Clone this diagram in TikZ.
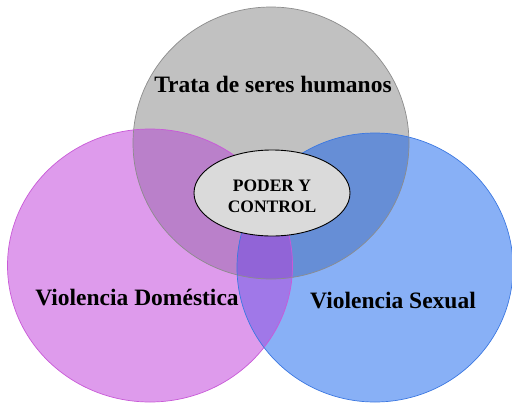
\documentclass[tikz,border=0pt]{standalone}
\usepackage{fontspec}
\setmainfont{Liberation Serif}
\definecolor{cgray}{RGB}{193,193,193}
\definecolor{cpink}{RGB}{222,155,236}
\definecolor{cblue}{RGB}{136,176,246}
\definecolor{cgp}{RGB}{186,128,202}
\definecolor{cgb}{RGB}{102,142,214}
\definecolor{cpb}{RGB}{160,120,232}
\definecolor{cgpb}{RGB}{145,100,215}
\definecolor{lgray}{RGB}{140,140,140}
\definecolor{lpink}{RGB}{200,90,215}
\definecolor{lblue}{RGB}{60,120,225}
\definecolor{cell}{RGB}{218,218,218}
\tikzset{
  lbl/.style={font=\bfseries\fontsize{23.5}{26}\selectfont, text=black, inner sep=0pt},
  clbl/.style={font=\bfseries\fontsize{17.5}{21}\selectfont, text=black, align=center, inner sep=0pt},
  core/.style={ellipse, draw=black, line width=0.9pt, fill=cell, minimum width=156pt, minimum height=86pt, inner sep=0pt}
}
\usetikzlibrary{shapes.geometric}
\begin{document}
\begin{tikzpicture}[x=1pt,y=-1pt]
\useasboundingbox (0,0) rectangle (512,405);
\def\G{(271,143) ellipse [x radius=138, y radius=136]}
\def\P{(150,265.5) ellipse [x radius=142.5, y radius=136.5]}
\def\B{(375,267.5) ellipse [x radius=138, y radius=134.5]}
% base fills
\fill[cgray] \G;
\fill[cpink] \P;
\fill[cblue] \B;
% pairwise overlaps
\begin{scope}\clip \P; \fill[cgp] \G; \end{scope}
\begin{scope}\clip \B; \fill[cgb] \G; \end{scope}
\begin{scope}\clip \P; \fill[cpb] \B; \end{scope}
\begin{scope}\clip \P; \clip \G; \fill[cgpb] \B; \end{scope}
% outlines
\draw[lgray, line width=0.7pt] \G;
\draw[lpink, line width=0.7pt] \P;
\draw[lblue, line width=0.7pt] \B;
% labels
\node[lbl] (trata) at (273,84) {Trata de seres humanos};
\node[lbl] (dom) at (137,298) {Violencia Doméstica};
\node[lbl] (sex) at (393,301) {Violencia Sexual};
\node[core] (pc) at (272,193) {};
\node[clbl] (pctext) at (272,196) {PODER Y\\CONTROL};
\end{tikzpicture}
\end{document}
